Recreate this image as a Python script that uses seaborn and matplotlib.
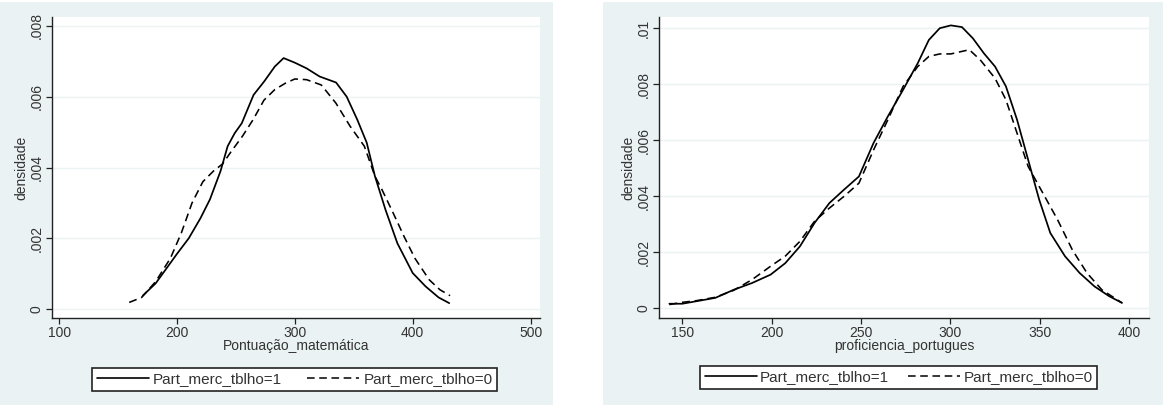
import numpy as np
import pandas as pd
import matplotlib
matplotlib.use("Agg")
import matplotlib.pyplot as plt
from matplotlib.patches import Rectangle
from matplotlib.lines import Line2D
import seaborn as sns

# ---- data: left panel (Pontuação_matemática) ----
mat_x1 = [171, 182, 200, 210, 220, 228, 237, 243, 249, 255, 265, 274, 283, 290.5,
          300, 310, 321, 335, 344, 353, 361, 368, 377, 387, 400, 411, 422, 431]
mat_y1 = [0.00038, 0.00073, 0.00156, 0.0020, 0.00257, 0.0031, 0.0039, 0.0046, 0.00497,
          0.00525, 0.00605, 0.00643, 0.00685, 0.00709, 0.00696, 0.0068, 0.00657, 0.0064,
          0.0060, 0.00535, 0.0047, 0.00375, 0.0028, 0.00186, 0.00102, 0.00064, 0.00033, 0.00017]
mat_x0 = [159.5, 170, 182, 194.5, 203.7, 212.8, 222, 231, 238.7, 246, 255.5, 264.6, 273.8,
          283, 292, 300, 310, 322.5, 334.8, 347, 359, 368, 374, 383.5, 392.7, 401.8, 414, 423, 431.7]
mat_y0 = [0.00019, 0.00033, 0.00078, 0.00144, 0.00215, 0.0030, 0.0036, 0.0039, 0.0041,
          0.00445, 0.00488, 0.00535, 0.0059, 0.0062, 0.00638, 0.0065, 0.00648, 0.00633,
          0.00582, 0.00516, 0.0046, 0.00375, 0.00337, 0.00271, 0.00205, 0.00144, 0.00083,
          0.00055, 0.00038]

# ---- data: right panel (proficiencia_portugues) ----
por_x1 = [142.8, 150, 158, 168.5, 178.8, 189, 199.4, 207.6, 215.8, 224, 232.3, 240.5, 248.8,
          257, 265, 273.5, 281.7, 287.9, 294, 300.2, 306.4, 312.5, 318.7, 324.9, 331, 337.2,
          343.4, 349.6, 355.8, 364, 372.2, 380.5, 388.7, 395.9]
por_y1 = [0.00015, 0.00015, 0.00024, 0.00036, 0.00065, 0.00089, 0.00119, 0.0016, 0.0022,
          0.00304, 0.00375, 0.00423, 0.0047, 0.0059, 0.00685, 0.0078, 0.00875, 0.00958,
          0.0100, 0.0101, 0.01004, 0.00964, 0.0091, 0.00863, 0.00792, 0.00673, 0.0053,
          0.00387, 0.00268, 0.00185, 0.00125, 0.00077, 0.00042, 0.00018]
por_x0 = [142.8, 150, 158, 168.5, 178.8, 189, 199.4, 207.6, 215.8, 224, 232.3, 240.5, 248.8,
          257, 265, 273.5, 281.7, 287.9, 294, 300.2, 306.4, 310.5, 316.6, 324.9, 331, 337.2,
          343.4, 351.6, 359.9, 368.1, 376.3, 384.6, 395.9]
por_y0 = [0.00012, 0.0002, 0.00026, 0.00038, 0.00063, 0.00101, 0.00149, 0.00185, 0.00238,
          0.0031, 0.00357, 0.00399, 0.00446, 0.00565, 0.00673, 0.00792, 0.00863, 0.00899,
          0.00908, 0.00908, 0.00917, 0.00923, 0.00887, 0.00821, 0.00744, 0.00625, 0.00506,
          0.00411, 0.00315, 0.00208, 0.00125, 0.00065, 0.00018]

series_labels = ["Part_merc_tblho=1", "Part_merc_tblho=0"]
mat_xticks = [100, 200, 300, 400, 500]
mat_yticks = [0, 0.002, 0.004, 0.006, 0.008]
mat_yticklabels = ["0", ".002", ".004", ".006", ".008"]
por_xticks = [150, 200, 250, 300, 350, 400]
por_yticks = [0, 0.002, 0.004, 0.006, 0.008, 0.01]
por_yticklabels = ["0", ".002", ".004", ".006", ".008", ".01"]

sns.set_theme(style="white")
plt.rcParams["font.family"] = ["Liberation Sans", "DejaVu Sans"]

W, H = 1173, 405
FS = 10
LFS = 11
fig = plt.figure(figsize=(W / 100, H / 100), dpi=100)
fig.patch.set_facecolor("white")

BG = "#EAF2F3"
TXT = "#333333"
# graph regions
fig.patches.append(Rectangle((0, 0), 553 / W, 403 / H, transform=fig.transFigure,
                             facecolor=BG, edgecolor="none", zorder=-5))
fig.patches.append(Rectangle((603 / W, 0), 560 / W, 403 / H, transform=fig.transFigure,
                             facecolor=BG, edgecolor="none", zorder=-5))


def px_axes(x0, x1, y0, y1):
    return fig.add_axes([x0 / W, (H - y1) / H, (x1 - x0) / W, (y1 - y0) / H])


def style_ax(ax, xticks, yticks, ylabels, xlim, ylim, xlabel):
    ax.set_facecolor("white")
    ax.set_xlim(*xlim)
    ax.set_ylim(*ylim)
    ax.set_xticks(xticks)
    ax.set_xticklabels([str(t) for t in xticks])
    ax.set_yticks(yticks)
    ax.set_yticklabels(ylabels, rotation=90, va="center")
    for s in ["top", "right"]:
        ax.spines[s].set_visible(False)
    for s in ["left", "bottom"]:
        ax.spines[s].set_color("#222222")
        ax.spines[s].set_linewidth(1.0)
    ax.tick_params(axis="both", direction="out", length=4, width=0.9, color="#222222",
                   labelsize=FS, labelcolor=TXT, pad=2, left=True, bottom=True)
    ax.yaxis.grid(True, color=BG, linewidth=1.0)
    ax.xaxis.grid(False)
    ax.set_axisbelow(True)
    ax.set_xlabel(xlabel, fontsize=FS, color=TXT, labelpad=-1)
    ax.set_ylabel("densidade", fontsize=FS, color=TXT, labelpad=1)


def draw(ax, x1, y1, x0, y0):
    sns.lineplot(x=x1, y=y1, ax=ax, color="black", linewidth=1.25, sort=False,
                 estimator=None, legend=False)
    sns.lineplot(x=x0, y=y0, ax=ax, color="black", linewidth=1.15, sort=False,
                 estimator=None, legend=False)
    ax.lines[-1].set_linestyle((0, (5, 3)))


def add_legend(x0, x1, y0, y1, textpad):
    handles = [Line2D([], [], color="black", linewidth=1.2),
               Line2D([], [], color="black", linewidth=1.1, linestyle=(0, (5, 3)))]
    leg = fig.legend(handles, series_labels, loc="lower left", mode="expand", ncol=2,
                     bbox_to_anchor=(x0 / W, (H - y1) / H, (x1 - x0) / W, (y1 - y0) / H),
                     bbox_transform=fig.transFigure, frameon=True, fancybox=False,
                     fontsize=LFS, handlelength=3.4, handletextpad=textpad,
                     borderaxespad=0, borderpad=0.3, columnspacing=1.0)
    fr = leg.get_frame()
    fr.set_edgecolor("#222222")
    fr.set_linewidth(1.2)
    fr.set_facecolor("white")
    fr.set_alpha(1)
    for t in leg.get_texts():
        t.set_color(TXT)


ax1 = px_axes(52, 540, 17, 318)
draw(ax1, mat_x1, mat_y1, mat_x0, mat_y0)
style_ax(ax1, mat_xticks, mat_yticks, mat_yticklabels, (94, 508), (-0.00025, 0.00825),
         "Pontuação_matemática")
add_legend(92, 497, 363, 391, 0.3)

ax2 = px_axes(659, 1149, 17, 318)
draw(ax2, por_x1, por_y1, por_x0, por_y0)
style_ax(ax2, por_xticks, por_yticks, por_yticklabels, (137, 411), (-0.00036, 0.0104),
         "proficiencia_portugues")
add_legend(700, 1097, 362, 389, 0.2)

fig.savefig("out.png", dpi=100, facecolor="white")
